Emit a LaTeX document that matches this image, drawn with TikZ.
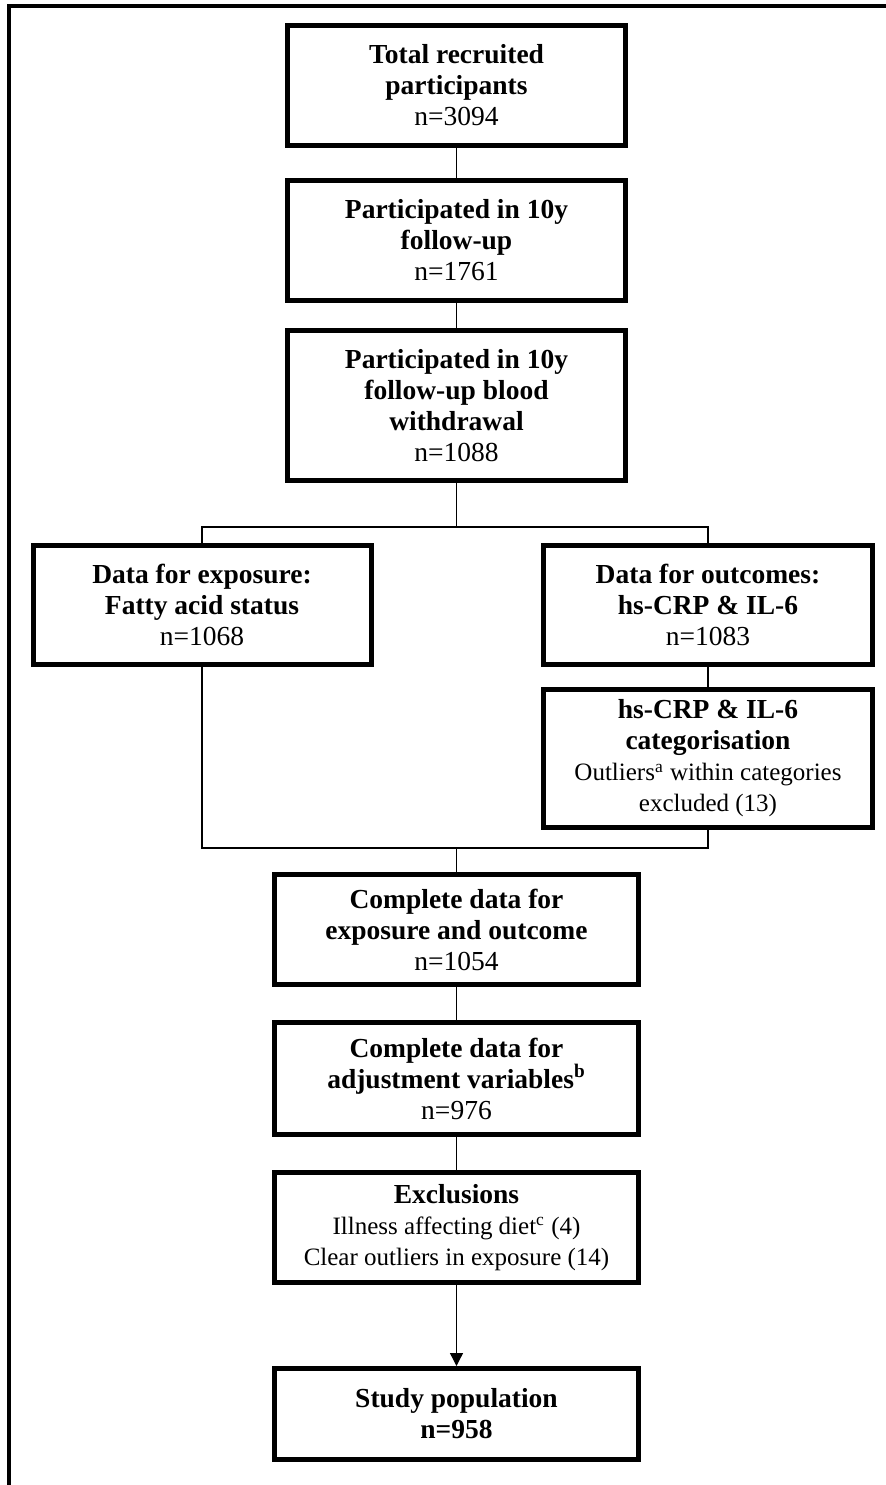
\documentclass[tikz,border=0pt]{standalone}
\usepackage{fontspec}
\setmainfont{Liberation Serif}
\usetikzlibrary{arrows.meta, positioning}
\newcommand{\detailtext}[1]{{\fontsize{12.5pt}{13.5pt}\selectfont #1}}

\begin{document}
\begin{tikzpicture}[
    node distance=15pt,
    box/.style={rectangle, draw, line width=2.5pt, align=center, inner sep=2pt,
                minimum width=169pt, font=\fontsize{13.75pt}{15.5pt}\selectfont},
    sidebox/.style={box, minimum width=164.5pt},
    midbox/.style={box, minimum width=182pt},
    link/.style={line width=0.65pt},
    arrow/.style={link, -{Triangle[length=6.5pt, width=6.5pt]}}
  ]
    \useasboundingbox (0,0) rectangle (443pt,-742.5pt);
    % outer frame
    \draw[line width=2pt] (4.5pt,-742.5pt) -- (4.5pt,-3pt) -- (443pt,-3pt);

    \node[box, minimum height=60pt, anchor=north] (total) at (228.25pt,-11.5pt)
        {\textbf{Total recruited}\\\textbf{participants}\\n=3094};
    \node[box, minimum height=60pt, below=15pt of total] (follow)
        {\textbf{Participated in 10y}\\\textbf{follow-up}\\n=1761};
    \node[box, minimum height=75pt, below=12.5pt of follow] (blood)
        {\textbf{Participated in 10y}\\\textbf{follow-up blood}\\\textbf{withdrawal}\\n=1088};
    \coordinate[below=22pt of blood] (split);

    \node[box, minimum height=59.5pt, below=8pt of split, xshift=-127.25pt] (exposure)
        {\textbf{Data for exposure:}\\\textbf{Fatty acid status}\\n=1068};
    \node[sidebox, minimum height=59.5pt, below=8pt of split, xshift=125.75pt] (outcome)
        {\textbf{Data for outcomes:}\\\textbf{hs-CRP \& IL-6}\\n=1083};
    \node[sidebox, minimum height=69pt, below=10pt of outcome] (categ)
        {\textbf{hs-CRP \& IL-6}\\\textbf{categorisation}\\
         \detailtext{Outliers\textsuperscript{a} within categories}\\\detailtext{excluded (13)}};
    \path (blood.south |- categ.south) ++(0,-9pt) coordinate (join);

    \node[midbox, minimum height=55pt, below=12pt of join] (complete)
        {\textbf{Complete data for}\\\textbf{exposure and outcome}\\n=1054};
    \node[midbox, minimum height=56pt, below=16.5pt of complete] (adjust)
        {\textbf{Complete data for}\\\textbf{adjustment variables\textsuperscript{b}}\\n=976};
    \node[midbox, minimum height=55pt, below=16.5pt of adjust] (exclude)
        {\textbf{Exclusions}\\\detailtext{Illness affecting diet\textsuperscript{c} (4)}\\
         \detailtext{Clear outliers in exposure (14)}};
    \node[midbox, minimum height=45.5pt, below=40.5pt of exclude] (study)
        {\textbf{Study population}\\\textbf{n=958}};

    \draw[link] (total) -- (follow);
    \draw[link] (follow) -- (blood);
    \draw[link] (blood) -- (split);
    \draw[link] (exposure.north) |- (split) -| (outcome.north);
    \draw[link] (outcome) -- (categ);
    \draw[link] (exposure.south) |- (join) -| (categ.south);
    \draw[link] (join) -- (complete);
    \draw[link] (complete) -- (adjust);
    \draw[link] (adjust) -- (exclude);
    \draw[arrow] (exclude) -- (study);
  \end{tikzpicture}
\end{document}
